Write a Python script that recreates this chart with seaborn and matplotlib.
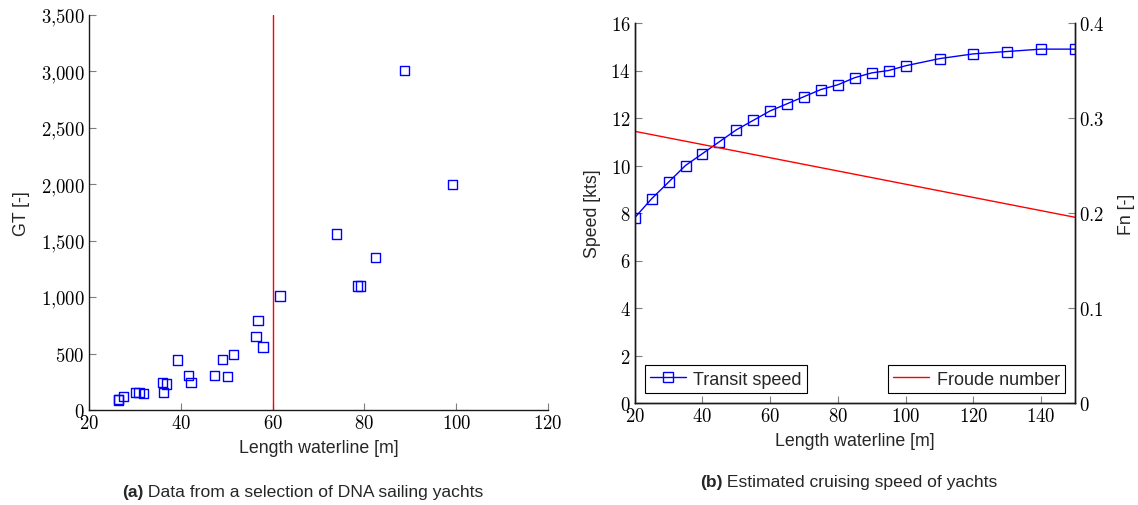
import matplotlib
matplotlib.use("Agg")
import matplotlib.pyplot as plt
from matplotlib.ticker import FuncFormatter
import seaborn as sns
import pandas as pd

# ---- data: (a) DNA sailing yachts ----
lwl_yachts = [26.4, 26.4, 27.5, 30.2, 30.9, 31.8, 36.0, 36.8, 36.2, 39.2, 41.6, 42.2,
              47.3, 50.1, 49.0, 51.4, 56.4, 56.8, 57.9, 61.6, 74.0, 82.5, 78.5, 79.1,
              88.8, 99.2]
gt_yachts = [89, 95, 118, 157, 157, 148, 245, 230, 157, 443, 304, 242,
             304, 298, 449, 493, 653, 791, 558, 1010, 1559, 1353, 1099, 1099,
             3006, 2000]
lwl_limit = 60

# ---- data: (b) cruising speed ----
lwl_speed = [20, 25, 30, 35, 40, 45, 50, 55, 60, 65, 70, 75, 80, 85, 90, 95, 100,
             110, 120, 130, 140, 150]
transit_speed = [7.8, 8.6, 9.3, 10.0, 10.5, 11.0, 11.5, 11.9, 12.3, 12.6, 12.9, 13.2,
                 13.4, 13.7, 13.9, 14.0, 14.2, 14.5, 14.7, 14.8, 14.9, 14.9]
lwl_froude = [20, 150]
froude_number = [0.286, 0.1955]

left_yticks = [0, 500, 1000, 1500, 2000, 2500, 3000, 3500]
left_xticks = [20, 40, 60, 80, 100, 120]
right_xticks = [20, 40, 60, 80, 100, 120, 140]
speed_ticks = [0, 2, 4, 6, 8, 10, 12, 14, 16]
fn_ticks = [0, 0.1, 0.2, 0.3, 0.4]

sns.set_theme(style="ticks")
plt.rcParams["font.family"] = ["Liberation Sans", "DejaVu Sans"]
plt.rcParams["mathtext.fontset"] = "cm"

SANS = "Liberation Sans"
TICKC = "#7f7f7f"
SPINEC = "#1a1a1a"
TICKFS = 13.5
LABFS = 12.8
CAPFS = 12.6

fig = plt.figure(figsize=(11.38, 5.06), dpi=100)

# ---------- (a) ----------
ax1 = fig.add_axes([89 / 1138, 1 - 411 / 506, (548 - 89) / 1138, (411 - 16) / 506])
df_a = pd.DataFrame({"lwl": lwl_yachts, "gt": gt_yachts})
sns.scatterplot(data=df_a, x="lwl", y="gt", marker="s", s=44, facecolor="none",
                edgecolor="blue", linewidth=1.0, ax=ax1, zorder=3)
ax1.axvline(lwl_limit, color="red", lw=1.0, zorder=2)
ax1.set_xlim(20, 120)
ax1.set_ylim(0, 3500)
ax1.set_xticks(left_xticks)
ax1.set_yticks(left_yticks)
ax1.xaxis.set_major_formatter(FuncFormatter(lambda v, p: f"${v:.0f}$"))
ax1.yaxis.set_major_formatter(
    FuncFormatter(lambda v, p: "$" + f"{v:,.0f}".replace(",", "{,}") + "$"))
for s in ["top", "right"]:
    ax1.spines[s].set_visible(False)
for s in ["left", "bottom"]:
    ax1.spines[s].set_color(SPINEC)
    ax1.spines[s].set_linewidth(1.0)
ax1.tick_params(direction="in", length=5, width=0.8, color=TICKC, labelsize=TICKFS,
                labelcolor="black", pad=3)
ax1.set_xlabel("Length waterline [m]", fontsize=LABFS, family=SANS, labelpad=5)
ax1.set_ylabel("GT [-]", fontsize=LABFS, family=SANS, labelpad=8)

# ---------- (b) ----------
ax2 = fig.add_axes([634.7 / 1138, 1 - 404 / 506, (1075 - 634.7) / 1138, 380 / 506])
df_b = pd.DataFrame({"lwl": lwl_speed, "speed": transit_speed})
sns.lineplot(data=df_b, x="lwl", y="speed", color="blue", lw=1.0, marker="s",
             markersize=7.2, markerfacecolor="none", markeredgecolor="blue",
             markeredgewidth=1.0, label="Transit speed", ax=ax2)
ax2.set_xlim(20, 150)
ax2.set_ylim(0, 16)
ax2.set_xticks(right_xticks)
ax2.set_yticks(speed_ticks)
ax2.xaxis.set_major_formatter(FuncFormatter(lambda v, p: f"${v:.0f}$"))
ax2.yaxis.set_major_formatter(FuncFormatter(lambda v, p: f"${v:.0f}$"))
ax2.tick_params(direction="in", length=5, width=0.8, color=TICKC, labelsize=TICKFS,
                labelcolor="black", pad=3)
ax2.set_xlabel("Length waterline [m]", fontsize=LABFS, family=SANS, labelpad=5)
ax2.set_ylabel("Speed [kts]", fontsize=LABFS, family=SANS, labelpad=7)

ax3 = ax2.twinx()
df_f = pd.DataFrame({"lwl": lwl_froude, "fn": froude_number})
sns.lineplot(data=df_f, x="lwl", y="fn", color="red", lw=1.0,
             label="Froude number", ax=ax3)
ax3.set_ylim(0, 0.4)
ax3.set_yticks(fn_ticks)
ax3.yaxis.set_major_formatter(FuncFormatter(lambda v, p: f"${v:g}$"))
ax3.tick_params(direction="in", length=5, width=0.8, color=TICKC, labelsize=TICKFS,
                labelcolor="black", pad=3)
ax3.set_ylabel("Fn [-]", fontsize=LABFS, family=SANS, labelpad=10)

for a in (ax2, ax3):
    a.spines["top"].set_visible(False)
    for s in ["left", "bottom", "right"]:
        a.spines[s].set_color(SPINEC)
        a.spines[s].set_linewidth(1.0)

leg_kw = dict(frameon=True, fancybox=False, edgecolor="black", framealpha=1,
              prop={"family": SANS, "size": 13}, handlelength=2.0,
              borderpad=0.3, handletextpad=0.4, borderaxespad=0.55)
h2, l2 = ax2.get_legend_handles_labels()
ax2.legend(h2, l2, loc="lower left", **leg_kw).get_frame().set_linewidth(0.8)
h3, l3 = ax3.get_legend_handles_labels()
ax3.legend(h3, l3, loc="lower right", **leg_kw).get_frame().set_linewidth(0.8)

# captions
cap_a = fig.text(122 / 1138, 1 - 493 / 506, "(a)", fontsize=CAPFS, family=SANS,
                 weight="bold", va="center", ha="left")
plt.annotate(" Data from a selection of DNA sailing yachts", xy=(1, 0.5),
             xycoords=cap_a, va="center", ha="left", fontsize=CAPFS, family=SANS,
             annotation_clip=False)
cap_b = fig.text(700 / 1138, 1 - 483 / 506, "(b)", fontsize=CAPFS, family=SANS,
                 weight="bold", va="center", ha="left")
plt.annotate(" Estimated cruising speed of yachts", xy=(1, 0.5),
             xycoords=cap_b, va="center", ha="left", fontsize=CAPFS, family=SANS,
             annotation_clip=False)

fig.savefig("out.png", dpi=100)
